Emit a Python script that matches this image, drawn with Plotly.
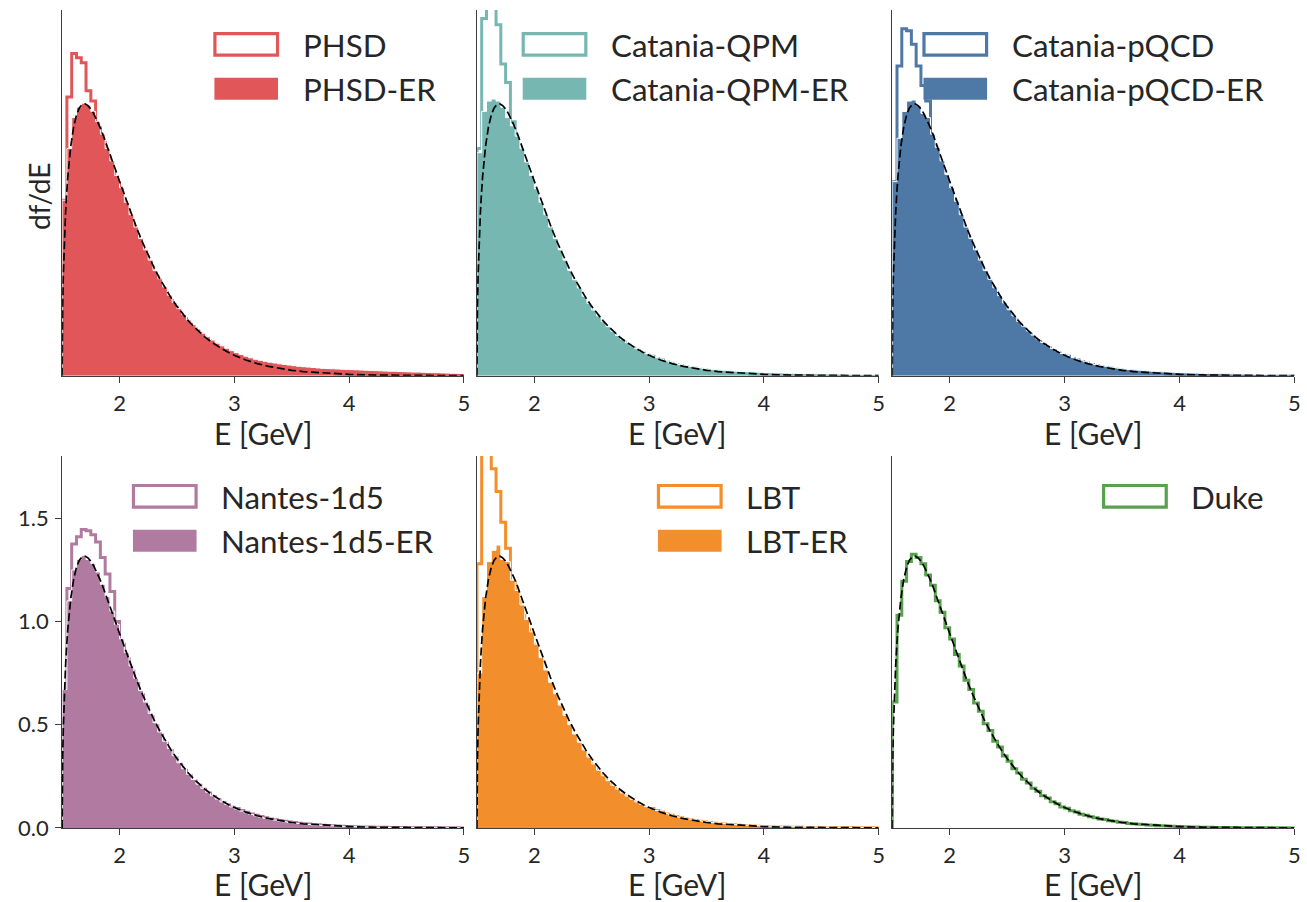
import numpy as np
import plotly.graph_objects as go

# ---------------- data ----------------
E_MIN, E_MAX, N_BINS = 1.5, 5.0, 84
E_EDGES = np.linspace(E_MIN, E_MAX, N_BINS + 1)

TAIL_TH = [0.094, 0.084, 0.076, 0.068, 0.061, 0.055, 0.049, 0.044, 0.040, 0.036,
           0.032, 0.029, 0.026, 0.023, 0.021, 0.019, 0.017, 0.015, 0.013, 0.012,
           0.011, 0.009, 0.008, 0.0075, 0.0065, 0.006, 0.005, 0.0046, 0.0041, 0.0036,
           0.0032, 0.0029, 0.0026, 0.0023, 0.002, 0.0018, 0.0016, 0.0014, 0.0013, 0.0011,
           0.001, 0.0009, 0.0008, 0.0007, 0.0006, 0.0006, 0.0005, 0.0004]

PHSD = [0.85, 1.35, 1.56, 1.54, 1.515, 1.38, 1.33, 1.20, 1.13, 1.06,
        0.99, 0.93, 0.86, 0.80, 0.74, 0.68, 0.625, 0.575, 0.525, 0.48,
        0.44, 0.40, 0.365, 0.333, 0.303, 0.276, 0.25, 0.227, 0.206, 0.187,
        0.17, 0.154, 0.14, 0.127, 0.115, 0.104] + TAIL_TH
PHSD_ER = [0.85, 1.10, 1.25, 1.30, 1.32, 1.31, 1.28, 1.23, 1.17, 1.10,
           1.04, 0.97, 0.91, 0.84, 0.78, 0.72, 0.665, 0.61, 0.56, 0.51,
           0.47, 0.43, 0.39, 0.355, 0.325, 0.296, 0.27, 0.247, 0.226, 0.206,
           0.189, 0.173, 0.158, 0.145, 0.133, 0.122, 0.112, 0.103, 0.095, 0.087,
           0.080, 0.075, 0.070, 0.066, 0.062, 0.058, 0.055, 0.052, 0.049, 0.046,
           0.044, 0.042, 0.040, 0.038, 0.036, 0.035, 0.034, 0.033, 0.032, 0.031,
           0.030, 0.029, 0.028, 0.027, 0.026, 0.025, 0.024, 0.023, 0.022, 0.022,
           0.021, 0.020, 0.019, 0.018, 0.018, 0.017, 0.016, 0.015, 0.015, 0.014,
           0.013, 0.012, 0.012, 0.011]

QPM = [1.10, 1.73, 1.95, 1.90, 1.70, 1.51, 1.42, 1.23, 1.08, 1.00,
       0.94, 0.88, 0.82, 0.76, 0.70, 0.65, 0.60, 0.55, 0.50, 0.46,
       0.42, 0.38, 0.35, 0.32, 0.29, 0.265, 0.24, 0.218, 0.198, 0.18,
       0.163, 0.148, 0.134, 0.121, 0.11, 0.099] + TAIL_TH
QPM_ER = [1.08, 1.28, 1.33, 1.34, 1.33, 1.30, 1.25, 1.21, 1.16, 1.10,
          1.035, 0.97, 0.905, 0.84, 0.78, 0.72, 0.665, 0.61, 0.56, 0.51,
          0.465, 0.425, 0.385, 0.35, 0.318, 0.29, 0.262, 0.238, 0.215, 0.195,
          0.177, 0.16, 0.145, 0.131, 0.118, 0.107, 0.097, 0.088, 0.080, 0.073,
          0.066, 0.060, 0.055, 0.050, 0.046, 0.042, 0.039, 0.036, 0.033, 0.031,
          0.029, 0.027, 0.025, 0.023, 0.022, 0.021, 0.020, 0.019, 0.018, 0.017,
          0.016, 0.015, 0.014, 0.014, 0.013, 0.012, 0.012, 0.011, 0.011, 0.010,
          0.010, 0.009, 0.009, 0.009, 0.008, 0.008, 0.008, 0.007, 0.007, 0.007,
          0.006, 0.006, 0.006, 0.005]

PQCD = [0.94, 1.50, 1.68, 1.67, 1.605, 1.50, 1.405, 1.33, 1.12, 1.04,
        0.97, 0.91, 0.85, 0.79, 0.73, 0.675, 0.62, 0.57, 0.52, 0.475,
        0.435, 0.395, 0.36, 0.328, 0.298, 0.27, 0.245, 0.222, 0.201, 0.182,
        0.165, 0.149, 0.135, 0.122, 0.11, 0.099] + TAIL_TH
PQCD_ER = [0.94, 1.15, 1.28, 1.33, 1.335, 1.31, 1.27, 1.25, 1.17, 1.105,
           1.04, 0.975, 0.91, 0.845, 0.78, 0.72, 0.665, 0.61, 0.56, 0.51,
           0.467, 0.426, 0.388, 0.353, 0.32, 0.29, 0.263, 0.24, 0.217, 0.197,
           0.178, 0.161, 0.146, 0.132, 0.119, 0.108, 0.098, 0.089, 0.081, 0.073,
           0.067, 0.061, 0.055, 0.050, 0.046, 0.042, 0.039, 0.036, 0.033, 0.031,
           0.029, 0.027, 0.025, 0.023, 0.022, 0.020, 0.019, 0.018, 0.017, 0.016,
           0.015, 0.014, 0.013, 0.013, 0.012, 0.011, 0.011, 0.010, 0.010, 0.009,
           0.009, 0.008, 0.008, 0.008, 0.007, 0.007, 0.007, 0.006, 0.006, 0.006,
           0.005, 0.005, 0.005, 0.005]

NANTES = [0.66, 1.16, 1.375, 1.41, 1.445, 1.44, 1.42, 1.385, 1.31, 1.23,
          1.145, 1.00, 0.89, 0.82, 0.76, 0.70, 0.645, 0.59, 0.54, 0.495,
          0.45, 0.41, 0.375, 0.34, 0.308, 0.28, 0.253, 0.229, 0.207, 0.187,
          0.169, 0.152, 0.137, 0.123, 0.111, 0.100] + TAIL_TH
NANTES_ER = [0.67, 1.10, 1.25, 1.30, 1.32, 1.30, 1.28, 1.24, 1.18, 1.12,
             1.05, 0.985, 0.915, 0.85, 0.785, 0.725, 0.665, 0.61, 0.555, 0.51,
             0.465, 0.42, 0.385, 0.35, 0.316, 0.287, 0.26, 0.235, 0.212, 0.192,
             0.173, 0.156, 0.14, 0.126, 0.113, 0.102, 0.092, 0.082, 0.074, 0.066,
             0.059, 0.053, 0.047, 0.042, 0.038, 0.034, 0.030, 0.027, 0.024, 0.022,
             0.019, 0.017, 0.015, 0.014, 0.012, 0.011, 0.010, 0.009, 0.008, 0.007,
             0.0065, 0.006, 0.005, 0.0045, 0.004, 0.0036, 0.0032, 0.0029, 0.0026, 0.0023,
             0.002, 0.0018, 0.0016, 0.0014, 0.0013, 0.0011, 0.001, 0.0009, 0.0008, 0.0007,
             0.0006, 0.0006, 0.0005, 0.0004]

LBT = [1.28, 2.05, 1.95, 1.74, 1.63, 1.48, 1.355, 1.19, 1.10, 1.03,
       0.96, 0.89, 0.82, 0.76, 0.70, 0.645, 0.59, 0.54, 0.495, 0.45,
       0.41, 0.375, 0.34, 0.31, 0.282, 0.256, 0.232, 0.21, 0.19, 0.172,
       0.155, 0.14, 0.126, 0.114, 0.103, 0.093] + TAIL_TH
LBT_ER = [0.75, 1.12, 1.29, 1.345, 1.37, 1.30, 1.29, 1.20, 1.15, 1.08,
          1.01, 0.95, 0.89, 0.825, 0.765, 0.705, 0.65, 0.595, 0.545, 0.50,
          0.455, 0.415, 0.378, 0.343, 0.31, 0.28, 0.253, 0.229, 0.207, 0.188,
          0.17, 0.154, 0.139, 0.126, 0.114, 0.103, 0.094, 0.085, 0.077, 0.070,
          0.063, 0.057, 0.052, 0.047, 0.043, 0.039, 0.035, 0.032, 0.029, 0.026,
          0.024, 0.022, 0.020, 0.018, 0.016, 0.015, 0.014, 0.013, 0.012, 0.011,
          0.010, 0.009, 0.0085, 0.008, 0.0075, 0.007, 0.0065, 0.006, 0.0055, 0.005,
          0.0048, 0.0045, 0.0042, 0.004, 0.0037, 0.0035, 0.0032, 0.003, 0.0028, 0.0026,
          0.0024, 0.0022, 0.002, 0.0018]

DUKE = [0.61, 1.03, 1.195, 1.29, 1.325, 1.31, 1.28, 1.225, 1.175, 1.10,
        1.045, 0.97, 0.915, 0.84, 0.785, 0.715, 0.67, 0.605, 0.565, 0.505,
        0.472, 0.42, 0.392, 0.348, 0.323, 0.287, 0.266, 0.236, 0.218, 0.192,
        0.178, 0.156, 0.145, 0.127, 0.117, 0.102, 0.095, 0.083, 0.077, 0.067,
        0.062, 0.054, 0.050, 0.043, 0.041, 0.035, 0.033, 0.028, 0.027, 0.022,
        0.021, 0.018, 0.017, 0.014, 0.013, 0.011, 0.011, 0.009, 0.008, 0.007,
        0.0065, 0.0055, 0.005, 0.0045, 0.004, 0.0035, 0.0032, 0.0028, 0.0026, 0.0022,
        0.002, 0.0017, 0.0016, 0.0014, 0.0013, 0.0011, 0.001, 0.0009, 0.0008, 0.0007,
        0.0006, 0.0006, 0.0005, 0.0004]

CURVE_E = [1.5, 1.501, 1.505, 1.51, 1.515, 1.52, 1.53, 1.54, 1.55, 1.575, 1.6, 1.625,
           1.65, 1.675, 1.7, 1.725, 1.75, 1.775, 1.8, 1.825, 1.85, 1.875, 1.9, 1.925,
           1.95, 1.975, 2.0, 2.05, 2.1, 2.15, 2.2, 2.25, 2.3, 2.35, 2.4, 2.45, 2.5,
           2.55, 2.6, 2.65, 2.7, 2.75, 2.8, 2.85, 2.9, 2.95, 3.0, 3.1, 3.2, 3.3, 3.4,
           3.5, 3.6, 3.8, 4.0, 4.25, 4.5, 4.75, 5.0]
CURVE_F = [0.0, 0.155, 0.342, 0.478, 0.578, 0.659, 0.787, 0.886, 0.966, 1.110, 1.203, 1.262,
           1.297, 1.313, 1.316, 1.308, 1.292, 1.269, 1.242, 1.210, 1.176, 1.139, 1.101, 1.062,
           1.022, 0.982, 0.942, 0.863, 0.787, 0.715, 0.647, 0.584, 0.525, 0.471, 0.422, 0.377, 0.336,
           0.299, 0.266, 0.236, 0.209, 0.185, 0.164, 0.145, 0.128, 0.1125, 0.099, 0.0765, 0.059, 0.0453, 0.0347,
           0.0266, 0.0203, 0.0117, 0.0067, 0.0033, 0.0016, 0.0008, 0.0004]

PANELS = [
    ("PHSD", "PHSD-ER", "#e15759", PHSD, PHSD_ER),
    ("Catania-QPM", "Catania-QPM-ER", "#76b7b2", QPM, QPM_ER),
    ("Catania-pQCD", "Catania-pQCD-ER", "#4e79a7", PQCD, PQCD_ER),
    ("Nantes-1d5", "Nantes-1d5-ER", "#b07aa1", NANTES, NANTES_ER),
    ("LBT", "LBT-ER", "#f28e2b", LBT, LBT_ER),
    ("Duke", None, "#59a14f", DUKE, None),
]

# ---------------- layout geometry (target pixels) ----------------
W, H = 1307, 902
SX, SY = 0.9935, 0.988          # compensation for page-to-screenshot scaling
COLS_PX = [(62, 463), (476, 877), (890.5, 1292)]
ROWS_PX = [(10, 376.7), (457, 830)]
YMAX = [1.771, 1.802]
LEG_PATCH_X = [304, 611.7, 1011.7, 222.7, 746.7, 1191]
TITLE_Y = [434, 886]
FONT = "Lato"
TXT = "#262626"
AX = "#3d3d3d"
F_TICK, F_TITLE, F_LEG = 22, 30, 31.3

def px_x(x):
    return x / SX / W

def px_y(y):
    return 1 - y / SY / H

def step_xy(vals):
    v = list(vals)
    x = [E_EDGES[0]] + list(E_EDGES[:-1]) + [E_EDGES[-1], E_EDGES[-1]]
    y = [0.0] + v + [v[-1], 0.0]
    return x, y

fig = go.Figure()
shapes, annotations = [], []

for k, (name, name_er, color, outline, er) in enumerate(PANELS):
    r, c = divmod(k, 3)
    ax_id = "" if k == 0 else str(k + 1)
    xa, ya = "x" + ax_id, "y" + ax_id

    x, y = step_xy(outline)
    fig.add_trace(go.Scatter(x=x, y=y, mode="lines", line_shape="hv",
                             line=dict(color=color, width=3), name=name,
                             xaxis=xa, yaxis=ya, hoverinfo="skip"))
    if er is not None:
        x, y = step_xy(er)
        fig.add_trace(go.Scatter(x=x, y=y, mode="lines", line_shape="hv",
                                 fill="tozeroy", fillcolor=color,
                                 line=dict(color="white", width=1), name=name_er,
                                 xaxis=xa, yaxis=ya, hoverinfo="skip"))
    fig.add_trace(go.Scatter(x=CURVE_E, y=CURVE_F, mode="lines",
                             line=dict(color="black", width=1.7, dash="8px,3.5px"),
                             name="thermal", xaxis=xa, yaxis=ya, hoverinfo="skip"))

    x0, x1 = COLS_PX[c]
    y0, y1 = ROWS_PX[r]
    show_y = (k == 3)
    fig.layout["xaxis" + ax_id] = dict(
        domain=[px_x(x0), px_x(x1)], range=[E_MIN, E_MAX], anchor=ya,
        tickvals=[2, 3, 4, 5], ticks="outside", ticklen=6, tickwidth=1.1,
        tickcolor=AX, showline=True, linecolor=AX, linewidth=1.1,
        showgrid=False, zeroline=False, ticklabelstandoff=2,
        tickfont=dict(family=FONT, size=F_TICK, color=TXT))
    fig.layout["yaxis" + ax_id] = dict(
        domain=[px_y(y1), px_y(y0)], range=[0, YMAX[r]], anchor=xa,
        showline=True, linecolor=AX, linewidth=1.1,
        showgrid=False, zeroline=False,
        ticks="outside" if show_y else "", ticklen=6, tickwidth=1.1, tickcolor=AX,
        showticklabels=show_y, ticklabelstandoff=2,
        tickvals=[0, 0.5, 1.0, 1.5], ticktext=["0.0", "0.5", "1.0", "1.5"],
        tickfont=dict(family=FONT, size=F_TICK, color=TXT))

    # x-axis title
    annotations.append(dict(text="E [GeV]", xref="paper", yref="paper",
                            x=px_x((x0 + x1) / 2), y=px_y(TITLE_Y[r]),
                            xanchor="center", yanchor="middle", showarrow=False,
                            font=dict(family=FONT, size=F_TITLE, color=TXT)))

    # legend: patches + text
    tx = LEG_PATCH_X[k]
    off = 0 if r == 0 else 453
    shapes.append(dict(type="rect", xref="paper", yref="paper", layer="above",
                       x0=px_x(tx - 89.5), x1=px_x(tx - 27),
                       y0=px_y(off + 55.3), y1=px_y(off + 33.7),
                       line=dict(color=color, width=3.2), fillcolor="white"))
    annotations.append(dict(text=name, xref="paper", yref="paper",
                            x=px_x(tx - 4), y=px_y(off + 45), xanchor="left", yanchor="middle",
                            showarrow=False, font=dict(family=FONT, size=F_LEG, color=TXT)))
    if name_er is not None:
        shapes.append(dict(type="rect", xref="paper", yref="paper", layer="above",
                           x0=px_x(tx - 90), x1=px_x(tx - 26.5),
                           y0=px_y(off + 100), y1=px_y(off + 78),
                           line=dict(width=0), fillcolor=color))
        annotations.append(dict(text=name_er, xref="paper", yref="paper",
                                x=px_x(tx - 4), y=px_y(off + 89.5), xanchor="left", yanchor="middle",
                                showarrow=False, font=dict(family=FONT, size=F_LEG, color=TXT)))

annotations.append(dict(text="df/dE", xref="paper", yref="paper", x=px_x(39), y=px_y(196.5),
                        xanchor="center", yanchor="middle", textangle=-90, showarrow=False,
                        font=dict(family=FONT, size=28, color=TXT)))

fig.update_layout(width=W, height=H, margin=dict(l=0, r=0, t=0, b=0),
                  paper_bgcolor="white", plot_bgcolor="white", showlegend=False,
                  shapes=shapes, annotations=annotations,
                  font=dict(family=FONT, color=TXT))

fig.write_html("out.html")
